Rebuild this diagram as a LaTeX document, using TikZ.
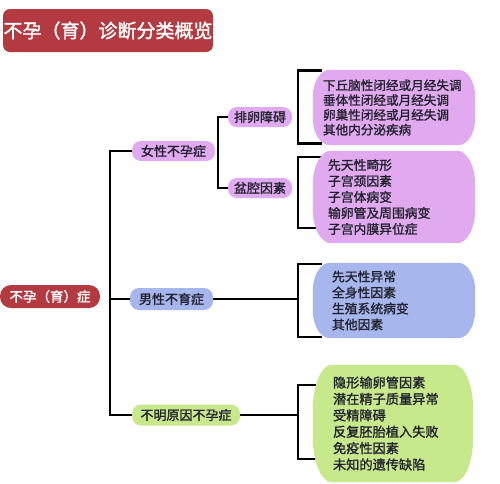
\documentclass[tikz,border=0pt]{standalone}
\usepackage{fontspec}
\newfontfamily\cjk[FakeBold=1.3]{Noto Sans CJK SC}
\newfontfamily\cjkt[FakeBold=1.6]{Noto Sans CJK SC}
\usetikzlibrary{backgrounds,calc}
\definecolor{tred}{HTML}{B23A40}
\definecolor{tpur}{HTML}{E0A9F0}
\definecolor{tblu}{HTML}{A8B6EE}
\definecolor{tgrn}{HTML}{C8E88C}
\definecolor{ttxt}{HTML}{22222E}
\tikzset{
  redbox/.style={fill=tred, text=white, rounded corners=7pt, inner sep=0pt, font=\cjkt},
  pill/.style={rounded corners=9pt, inner sep=0pt, minimum height=20pt, text=ttxt, font=\cjk\fontsize{13}{15}\selectfont},
  listbox/.style={align=left, text=ttxt, inner ysep=0pt, font=\cjk\fontsize{12.8}{16}\selectfont},
  br/.style={line width=2.6pt, black, line cap=rect},
}
% elliptic-cornered fill behind a node: name, colour, x radius, y radius
\newcommand\eboxfill[4]{%
  \fill[#2] ($(#1.north west)+(#3,0)$) -- ($(#1.north east)+(-#3,0)$)
    arc[start angle=90, end angle=0, x radius=#3pt, y radius=#4pt]
    -- ($(#1.south east)+(0,-#4)$)
    arc[start angle=0, end angle=-90, x radius=#3pt, y radius=#4pt]
    -- ($(#1.south west)+(#3,0)$)
    arc[start angle=-90, end angle=-180, x radius=#3pt, y radius=#4pt]
    -- ($(#1.north west)+(0,#4)$)
    arc[start angle=180, end angle=90, x radius=#3pt, y radius=#4pt]
    -- cycle;}
\begin{document}
\begin{tikzpicture}[x=1pt,y=-1pt]
\begin{scope}[on background layer]
\fill[white] (0,0) rectangle (500,483);
\end{scope}
\useasboundingbox (0,0) rectangle (500,483);
% title
\node[redbox, minimum width=210pt, minimum height=43pt, font=\cjkt\fontsize{19}{21}\selectfont] (title) at (108,30.5) {不孕（育）诊断分类概览};
% root
\node[redbox, rounded corners=11pt, minimum width=100pt, minimum height=23pt, font=\cjkt\fontsize{13.5}{15}\selectfont] (root) at (50,296.5) {不孕（育）症};
% level 1
\node[pill, fill=tpur, minimum width=83pt] (fem) at (173.5,151) {女性不孕症};
\node[pill, fill=tblu, minimum width=83pt, minimum height=22pt] (male) at (171.5,299) {男性不育症};
\node[pill, fill=tgrn, minimum width=108pt, minimum height=21pt] (unk) at (186,415) {不明原因不孕症};
% level 2 female
\node[pill, fill=tpur, minimum width=64pt] (ovu) at (260,117) {排卵障碍};
\node[pill, fill=tpur, minimum width=64pt] (pel) at (260,188) {盆腔因素};
% list boxes
\node[listbox, minimum width=162pt, minimum height=75pt, text width=142pt, font=\cjk\fontsize{12.6}{14.8}\selectfont] (b1) at (394,107.5)
  {下丘脑性闭经或月经失调\\垂体性闭经或月经失调\\卵巢性闭经或月经失调\\其他内分泌疾病};
\node[listbox, minimum width=162pt, minimum height=92pt, text width=132pt] (b2) at (394,197)
  {先天性畸形\\子宫颈因素\\子宫体病变\\输卵管及周围病变\\子宫内膜异位症};
\node[listbox, minimum width=162pt, minimum height=75pt, text width=124pt] (b3) at (394,300.5)
  {先天性异常\\全身性因素\\生殖系统病变\\其他因素};
\node[listbox, minimum width=160pt, minimum height=117pt, text width=120pt, font=\cjk\fontsize{13.2}{16.4}\selectfont] (b4) at (393,423.5)
  {隐形输卵管因素\\潜在精子质量异常\\受精障碍\\反复胚胎植入失败\\免疫性因素\\未知的遗传缺陷};
% connectors
\coordinate (m) at (110,0);
\coordinate (f) at (218,0);
\coordinate (r) at (298,0);
\begin{scope}[on background layer]
  \draw[br] (fem.west) -- (fem.west -| m) -- (unk.west -| m) -- (unk.west);
  \draw[br] (male.west) -- (male.west -| m);
  \draw[br] (ovu.west) -- (ovu.west -| f) -- (pel.west -| f) -- (pel.west);
  \draw[br] ($(b1.west)+(8,-37)$) -- ($(b1.west -| r)+(0,-37)$) -- ($(b1.west -| r)+(0,36)$) -- ($(b1.west)+(8,36)$);
  \draw[br] ($(b2.west)+(8,-40)$) -- ($(b2.west -| r)+(0,-40)$) -- ($(b2.west -| r)+(0,31)$) -- ($(b2.west)+(8,31)$);
  \draw[br] ($(b3.west)+(8,-36.5)$) -- ($(b3.west -| r)+(0,-36.5)$) -- ($(b3.west -| r)+(0,36.5)$) -- ($(b3.west)+(8,36.5)$);
  \draw[br] (male.east) -- (male.east -| r);
  \draw[br] ($(b4.west)+(10,-38.5)$) -- ($(b4.west -| r)+(0,-38.5)$) -- ($(b4.west -| r)+(0,35.5)$) -- ($(b4.west)+(10,35.5)$);
  \draw[br] (unk.east) -- (unk.east -| r);
  \eboxfill{b1}{tpur}{17}{27}
  \eboxfill{b2}{tpur}{18}{34}
  \eboxfill{b3}{tblu}{17}{28}
  \eboxfill{b4}{tgrn}{19}{45}
\end{scope}
\end{tikzpicture}
\end{document}
